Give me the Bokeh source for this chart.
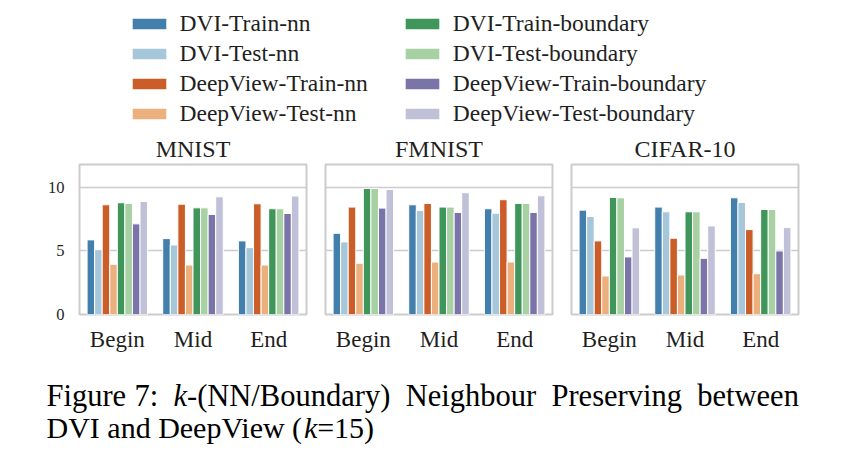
from bokeh.plotting import figure
from bokeh.models import (FactorRange, Range1d, FixedTicker, ColumnDataSource,
                          Legend, LegendItem)
from bokeh.transform import dodge
from bokeh.layouts import column, row
from bokeh.embed import file_html
from bokeh.resources import INLINE
from bokeh.core.properties import value

FONT = "Liberation Serif"
TXT = "#1f1f1f"

# ---------------- data ----------------
stages = ["Begin", "Mid", "End"]
datasets = ["MNIST", "FMNIST", "CIFAR-10"]
series_names = ["DVI-Train-nn", "DVI-Test-nn", "DeepView-Train-nn", "DeepView-Test-nn",
                "DVI-Train-boundary", "DVI-Test-boundary",
                "DeepView-Train-boundary", "DeepView-Test-boundary"]
colors = ["#437fac", "#a6c7d9", "#cb5e28", "#ebb07d",
          "#3f955a", "#a7d1a3", "#7b74a8", "#c0c1d8"]

# values per series, listed as (Begin, Mid, End)
mnist_values = [
    [5.87, 5.97, 5.79],
    [5.10, 5.47, 5.26],
    [8.63, 8.68, 8.71],
    [3.95, 3.89, 3.89],
    [8.79, 8.39, 8.32],
    [8.74, 8.39, 8.32],
    [7.13, 7.87, 7.95],
    [8.89, 9.26, 9.32],
]
fmnist_values = [
    [6.39, 8.63, 8.32],
    [5.71, 8.18, 7.97],
    [8.45, 8.74, 9.03],
    [4.03, 4.13, 4.13],
    [9.92, 8.45, 8.74],
    [9.92, 8.45, 8.74],
    [8.37, 8.03, 8.03],
    [9.84, 9.58, 9.34],
]
cifar_values = [
    [8.21, 8.45, 9.18],
    [7.71, 8.08, 8.82],
    [5.79, 6.00, 6.68],
    [3.03, 3.11, 3.21],
    [9.21, 8.08, 8.26],
    [9.18, 8.08, 8.26],
    [4.53, 4.42, 5.00],
    [6.82, 6.97, 6.84],
]
y_ticks = [0, 5, 10]

caption_line1 = ["Figure", "7:", "k", "-(NN/Boundary)", "Neighbour", "Preserving", "between"]
caption_line1_x = [46, 134, 173, 186.5, 405.2, 551, 696.8]
caption_line2 = ["DVI and DeepView (", "k", "=15)"]
caption_line2_x = [46, 303.4, 316.7]

# ---------------- panels ----------------
FRAME_W = 227
LEG_H = 131
TOP_B = 32


def make_panel(title, vals, first):
    data = {"stage": stages}
    for i, v in enumerate(vals):
        data[f"s{i}"] = v
    src = ColumnDataSource(data)
    left = 79 if first else 10
    p = figure(x_range=FactorRange(*stages), y_range=Range1d(0, 11.8),
               width=left + FRAME_W + 9, height=TOP_B + 151 + 46,
               min_border_left=left, min_border_right=9,
               min_border_top=TOP_B, min_border_bottom=46,
               output_backend="svg", toolbar_location=None)
    for i in range(len(vals)):
        p.vbar(x=dodge("stage", -0.35 + 0.1 * i, range=p.x_range), top=f"s{i}",
               width=0.1, source=src, fill_color=colors[i],
               line_color="white", line_width=1)
    p.title.text = title
    p.title.align = "center"
    p.title.text_font = FONT
    p.title.text_font_size = "24px"
    p.title.text_font_style = "normal"
    p.title.text_color = TXT
    p.title.standoff = 5

    p.xaxis.axis_line_color = None
    p.xaxis.major_tick_line_color = None
    p.xaxis.minor_tick_line_color = None
    p.xaxis.major_label_text_font = FONT
    p.xaxis.major_label_text_font_size = "23px"
    p.xaxis.major_label_text_color = TXT
    p.xaxis.major_label_standoff = 6

    p.yaxis.ticker = FixedTicker(ticks=y_ticks)
    p.yaxis.axis_line_color = None
    p.yaxis.major_tick_line_color = None
    p.yaxis.minor_tick_line_color = None
    p.yaxis.major_label_text_font = FONT
    p.yaxis.major_label_text_font_size = "16.5px"
    p.yaxis.major_label_text_color = TXT
    p.yaxis.major_label_standoff = 9
    if not first:
        p.yaxis.visible = False

    p.xgrid.visible = False
    p.ygrid.ticker = FixedTicker(ticks=y_ticks)
    p.ygrid.grid_line_color = "#cccccc"
    p.ygrid.grid_line_width = 1.5
    p.outline_line_color = "#cccccc"
    p.outline_line_width = 2
    p.background_fill_color = "white"
    p.border_fill_color = "white"
    return p


panels = [make_panel(t, v, i == 0)
          for i, (t, v) in enumerate(zip(datasets, [mnist_values, fmnist_values, cifar_values]))]

# ---------------- legend figure ----------------
lf = figure(width=832, height=LEG_H, x_range=Range1d(0, 832), y_range=Range1d(0, LEG_H),
            min_border=0, x_axis_type=None, y_axis_type=None,
            output_backend="svg", toolbar_location=None)
lf.outline_line_color = None
lf.xgrid.visible = False
lf.ygrid.visible = False
# off-screen proxies that only serve as legend glyphs
dummies = [lf.vbar(x=[-1000], top=[0], width=1, fill_color=c, line_color=None)
           for c in colors]


def make_legend(idx, loc):
    items = [LegendItem(label=series_names[i], renderers=[dummies[i]]) for i in idx]
    return Legend(items=items, location=loc, orientation="vertical",
                  glyph_width=42, glyph_height=13, label_standoff=10,
                  label_height=30, spacing=0, padding=0, margin=0,
                  border_line_color=None, background_fill_alpha=0,
                  label_text_font=FONT, label_text_font_size="23.5px",
                  label_text_color=TXT)


lf.add_layout(make_legend([0, 1, 2, 3], (127.5, LEG_H - 128)))
lf.add_layout(make_legend([4, 5, 6, 7], (400.75, LEG_H - 128)))

# ---------------- caption figure ----------------
CAP_H = 96
cf = figure(width=832, height=CAP_H, x_range=Range1d(0, 832), y_range=Range1d(0, CAP_H),
            min_border=0, x_axis_type=None, y_axis_type=None,
            output_backend="svg", toolbar_location=None)
cf.outline_line_color = None
cf.xgrid.visible = False
cf.ygrid.visible = False


def caption_text(words, xs, y, size):
    ital = [w == "k" for w in words]
    for flag, style in [(False, "normal"), (True, "italic")]:
        sel = [(w, x) for w, x, it in zip(words, xs, ital) if it == flag]
        if not sel:
            continue
        cf.text(x=[s[1] for s in sel], y=[y] * len(sel), text=[s[0] for s in sel],
                text_font=value(FONT), text_font_size=size,
                text_font_style=style, text_color="black",
                text_align="left", text_baseline="alphabetic")


caption_text(caption_line1, caption_line1_x, CAP_H - 35, "30.5px")
caption_text(caption_line2, caption_line2_x, CAP_H - 66.7, "30px")

layout = column(lf, row(*panels), cf)
open("out.html", "w").write(file_html(layout, INLINE))
